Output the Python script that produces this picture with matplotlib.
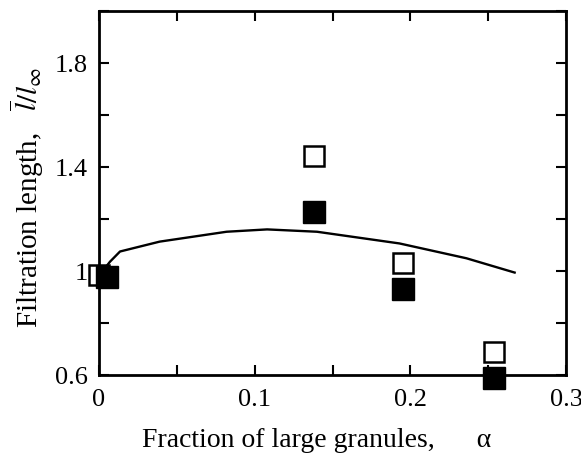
import matplotlib
matplotlib.use("Agg")
import matplotlib.pyplot as plt
from matplotlib.ticker import FixedLocator

plt.rcParams['font.family'] = ['Liberation Serif', 'DejaVu Serif']
plt.rcParams['mathtext.fontset'] = 'stix'

# Data
alpha_open = [0.0, 0.138, 0.195, 0.254]
ratio_open = [0.985, 1.442, 1.03, 0.688]
alpha_filled = [0.005, 0.138, 0.195, 0.254]
ratio_filled = [0.977, 1.226, 0.931, 0.588]
curve_alpha = [0.003, 0.0071, 0.0135, 0.039, 0.082, 0.108, 0.140, 0.193, 0.236, 0.267]
curve_ratio = [1.005, 1.036, 1.075, 1.113, 1.151, 1.160, 1.151, 1.106, 1.049, 0.994]
x_ticks = [0.0, 0.1, 0.2, 0.3]
x_ticklabels = ['0', '0.1', '0.2', '0.3']
y_ticks = [0.6, 1.0, 1.4, 1.8]
y_ticklabels = ['0.6', '1', '1.4', '1.8']

W, H = 581, 458
fig = plt.figure(figsize=(W / 100, H / 100), dpi=100)
ax = fig.add_axes([99 / W, 1 - 375 / H, (566 - 99) / W, (375 - 11) / H])

ax.plot(curve_alpha, curve_ratio, color='black', lw=1.7, zorder=2)
ax.plot(alpha_open, ratio_open, ls='none', marker='s', ms=15, mfc='white',
        mec='black', mew=1.8, clip_on=False, zorder=3)
ax.plot(alpha_filled, ratio_filled, ls='none', marker='s', ms=16, mfc='black',
        mec='black', mew=1.0, clip_on=False, zorder=4)

ax.set_xlim(0, 0.3)
ax.set_ylim(0.6, 2.0)
ax.set_xticks(x_ticks)
ax.set_xticklabels(x_ticklabels)
ax.xaxis.set_minor_locator(FixedLocator([0.05, 0.15, 0.25]))
ax.set_yticks(y_ticks)
ax.set_yticklabels(y_ticklabels)
ax.yaxis.set_minor_locator(FixedLocator([0.8, 1.2, 1.6, 2.0]))

for s in ax.spines.values():
    s.set_linewidth(2.0)
ax.tick_params(which='both', direction='in', top=True, right=True,
               length=7, width=1.5, labelsize=19)
ax.tick_params(axis='x', which='major', pad=10)
ax.tick_params(axis='y', which='major', pad=8)

ax.set_xlabel('Fraction of large granules,      α', fontsize=20,
              ha='left', va='baseline')
ax.xaxis.set_label_coords((142 - 99) / 467, -(447 - 375) / 364)

ax.set_ylabel(r'Filtration length,   $\overline{l}/l_\infty$', fontsize=21,
              ha='left', va='baseline', rotation=90, rotation_mode='anchor')
ax.yaxis.set_label_coords((38 - 99) / 467, (375 - 328) / 364)

fig.savefig('out.png', dpi=100)
